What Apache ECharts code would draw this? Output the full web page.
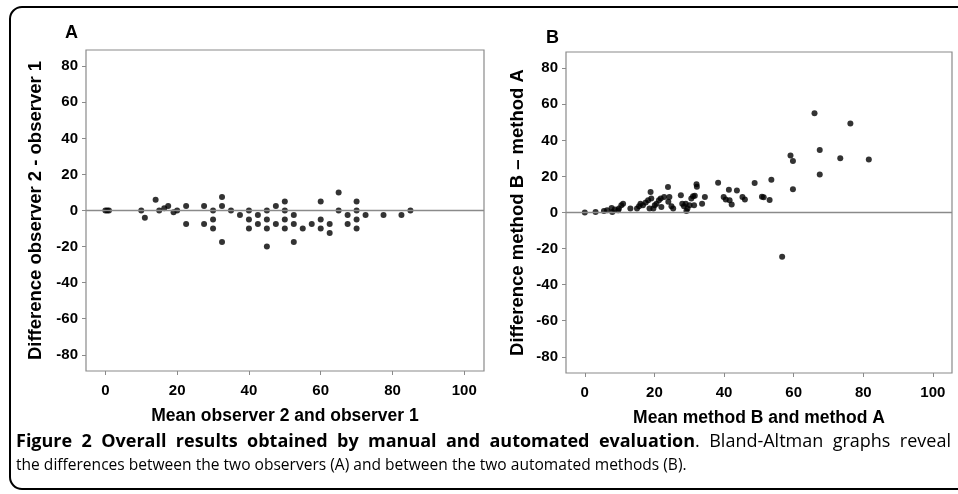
<!DOCTYPE html>
<html>
<head>
<meta charset="utf-8">
<script src="https://cdn.jsdelivr.net/npm/echarts@6/dist/echarts.min.js"></script>
<style>
html,body{margin:0;padding:0;background:#fff;}
#wrap{position:relative;width:958px;height:494px;overflow:hidden;}
#c{position:absolute;left:0;top:0;width:958px;height:494px;}
#cap{position:absolute;left:16px;top:429px;width:935px;font-family:"Open Sans",sans-serif;line-height:23px;color:#000;}
#cap .l1{font-size:18px;white-space:nowrap;display:flex;justify-content:space-between;}
#cap .l2{font-size:17px;white-space:nowrap;transform:scaleX(0.915);transform-origin:0 50%;}
#cap b{font-weight:bold;}
</style>
</head>
<body>
<div id="wrap">
<div id="c"></div>
<div id="cap"></div>
</div>
<script>
// ---- data ----
const xTicks = [0, 20, 40, 60, 80, 100];
const yTicks = [-80, -60, -40, -20, 0, 20, 40, 60, 80];

const panelALabel = 'A';
const panelBLabel = 'B';
const panelAXName = 'Mean observer 2 and observer 1';
const panelAYName = 'Difference observer 2 - observer 1';
const panelBXName = 'Mean method B and method A';
const panelBYName = 'Difference method B \u2013 method A';

const captionBold = 'Figure 2 Overall results obtained by manual and automated evaluation';
const captionRest1 = '. Bland-Altman graphs reveal';
const captionLine2 = 'the differences between the two observers (A) and between the two automated methods (B).';

// Panel A: [mean, difference] observer 2 vs observer 1
const panelA = [
  [0, 0], [0.5, 0], [1, 0],
  [10, 0], [11, -4], [14, 6], [15, 0], [16.4, 1.3], [17.5, 2.5], [19, -1], [20, 0],
  [22.5, 2.5], [22.5, -7.5], [27.5, 2.5], [27.5, -7.5],
  [30, 0], [30, -5], [30, -10],
  [32.5, 7.5], [32.5, 2.5], [32.5, -17.5],
  [35, 0], [37.5, -2.5],
  [40, 0], [40, -5], [40, -10],
  [42.5, -2.5], [42.5, -7.5],
  [45, 0], [45, -5], [45, -10], [45, -20],
  [47.5, 2.5], [47.5, -7.5],
  [50, 5], [50, 0], [50, -5], [50, -10],
  [52.5, -2.5], [52.5, -7.5], [52.5, -17.5],
  [55, -10], [57.5, -7.5],
  [60, 5], [60, -5], [60, -10],
  [62.5, -7.5], [62.5, -12.5],
  [65, 10], [65, 0],
  [67.5, -2.5], [67.5, -7.5],
  [70, 5], [70, 0], [70, -5], [70, -10],
  [72.5, -2.5], [77.5, -2.5], [82.5, -2.5], [85, 0]
];

// Panel B: [mean, difference] method B vs method A
const panelB = [
  [0, 0], [3.1, 0.3], [5.5, 0.9], [6.4, 1.3], [7.7, 2.5], [7.9, 0.3], [8.6, 1.7],
  [9.6, 1.3], [9.8, 2.2], [10.5, 4.0], [11.0, 4.9], [13.1, 2.2], [15.0, 2.2],
  [15.6, 3.5], [16.0, 4.9], [16.7, 4.0], [17.5, 5.5], [18.9, 11.4], [18.2, 6.8],
  [19.1, 7.7], [18.6, 2.2], [19.7, 2.2], [20.1, 4.0], [20.6, 4.9], [21.3, 6.8],
  [21.8, 7.7], [22.0, 3.1], [22.8, 8.6], [23.9, 14.1], [24.0, 5.9], [24.3, 8.6],
  [24.9, 3.5], [25.4, 2.2], [27.6, 9.5], [28.0, 4.9], [28.5, 3.5], [29.2, 0.9],
  [29.5, 2.2], [29.0, 4.9], [30.6, 7.7], [31.1, 9.0], [31.6, 9.3], [30.1, 4.0],
  [32.1, 15.6], [32.2, 14.3], [31.4, 4.0], [33.7, 4.9], [34.5, 8.6], [38.3, 16.5],
  [39.9, 8.6], [40.5, 7.2], [41.4, 12.6], [41.6, 6.8], [42.2, 4.4], [43.7, 12.2],
  [45.3, 8.6], [46.0, 7.2], [48.8, 16.3], [50.9, 8.8], [51.4, 8.5], [53.1, 7.0],
  [53.6, 18.2], [56.7, -24.6], [59.1, 31.6], [59.8, 28.5], [59.8, 12.9],
  [66.0, 55.0], [67.5, 34.6], [67.5, 21.1], [73.4, 30.1], [76.3, 49.4], [81.6, 29.4]
];

// ---- caption (real text, justified first line) ----
(function () {
  const cap = document.getElementById('cap');
  const l1 = document.createElement('div');
  l1.className = 'l1';
  const words = (captionBold + '\u0001' + captionRest1).split(' ');
  let boldMode = true;
  words.forEach(function (w) {
    const span = document.createElement('span');
    if (w.indexOf('\u0001') >= 0) {
      const parts = w.split('\u0001');
      const b = document.createElement('b'); b.textContent = parts[0];
      span.appendChild(b);
      span.appendChild(document.createTextNode(parts[1]));
      boldMode = false;
    } else if (boldMode) {
      const b = document.createElement('b'); b.textContent = w; span.appendChild(b);
    } else {
      span.textContent = w;
    }
    l1.appendChild(span);
  });
  const l2 = document.createElement('div');
  l2.className = 'l2';
  l2.textContent = captionLine2;
  cap.appendChild(l1);
  cap.appendChild(l2);
})();

// ---- chart ----
const FONT = '"Liberation Sans", Arial, Helvetica, sans-serif';
const GRAY = '#8a8a8a';

function xAxisFor(idx, name) {
  return {
    gridIndex: idx, type: 'value', min: -5.4, max: 105.5, position: 'bottom',
    name: name, nameLocation: 'middle', nameGap: 36,
    nameTextStyle: { fontFamily: FONT, fontWeight: 'bold', fontSize: 17.5, color: '#000' },
    axisLine: { show: false, onZero: false },
    axisTick: { show: true, length: 4, customValues: xTicks, lineStyle: { color: GRAY, width: 1 } },
    axisLabel: { customValues: xTicks, margin: 12, fontFamily: FONT, fontWeight: 'bold', fontSize: 15, color: '#000' },
    splitLine: { show: false }
  };
}
function yAxisFor(idx, name, gap) {
  return {
    gridIndex: idx, type: 'value', min: -89, max: 89, position: 'left',
    name: name, nameLocation: 'middle', nameGap: gap, nameRotate: 90,
    nameTextStyle: { fontFamily: FONT, fontWeight: 'bold', fontSize: 18.5, color: '#000' },
    axisLine: { show: false, onZero: false },
    axisTick: { show: true, length: 4, customValues: yTicks, lineStyle: { color: GRAY, width: 1 } },
    axisLabel: { customValues: yTicks, margin: 8, fontFamily: FONT, fontWeight: 'bold', fontSize: 15, color: '#000' },
    splitLine: { show: false }
  };
}
function seriesFor(idx, data) {
  return {
    type: 'scatter', xAxisIndex: idx, yAxisIndex: idx, data: data,
    symbol: 'circle', symbolSize: 6,
    itemStyle: { color: '#000' },
    silent: true, animation: false,
    markLine: {
      silent: true, symbol: 'none', animation: false,
      label: { show: false },
      lineStyle: { color: GRAY, type: 'solid', width: 1.3 },
      data: [{ yAxis: 0 }]
    }
  };
}

const chart = echarts.init(document.getElementById('c'), null, { renderer: 'canvas' });
chart.setOption({
  backgroundColor: 'transparent',
  animation: false,
  grid: [
    { left: 86, top: 50, width: 398, height: 321, show: true, borderColor: GRAY, borderWidth: 1.2, backgroundColor: 'transparent' },
    { left: 566, top: 52, width: 386, height: 321, show: true, borderColor: GRAY, borderWidth: 1.2, backgroundColor: 'transparent' }
  ],
  xAxis: [xAxisFor(0, panelAXName), xAxisFor(1, panelBXName)],
  yAxis: [yAxisFor(0, panelAYName, 41), yAxisFor(1, panelBYName, 39)],
  series: [seriesFor(0, panelA), seriesFor(1, panelB)],
  graphic: [
    { type: 'rect', shape: { x: 10, y: 7, width: 970, height: 482, r: 12 },
      style: { fill: 'none', stroke: '#000', lineWidth: 2 }, silent: true },
    { type: 'text', left: 65, top: 24,
      style: { text: panelALabel, font: 'bold 18px ' + FONT, fill: '#000' } },
    { type: 'text', left: 546, top: 29,
      style: { text: panelBLabel, font: 'bold 18px ' + FONT, fill: '#000' } }
  ]
});
</script>
</body>
</html>
